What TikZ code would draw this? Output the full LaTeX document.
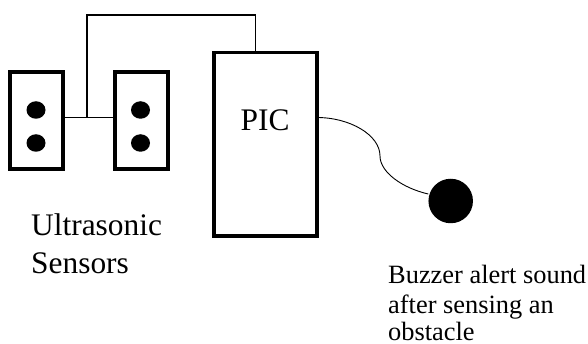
\documentclass[tikz,border=0pt]{standalone}
\usepackage{fontspec}
\usetikzlibrary{shapes.geometric}
\setmainfont{Liberation Serif}
\begin{document}
\begin{tikzpicture}[x=1pt,y=-1pt,
  boxnode/.style={draw=black,line width=3.8pt,fill=white,inner sep=0pt,outer sep=0pt},
  dotnode/.style={ellipse,fill=black,inner sep=0pt,minimum width=19pt,minimum height=17.5pt},
  wire/.style={draw=black,line width=1.3pt},
  thin wire/.style={draw=black,line width=0.9pt},
  biglabel/.style={anchor=base west,inner sep=0pt,font=\fontsize{31.4}{36}\selectfont},
  smalllabel/.style={anchor=base west,inner sep=0pt,font=\fontsize{26.4}{30}\selectfont}]
\useasboundingbox (0,0) rectangle (588,344);
\node[boxnode,minimum width=52.9pt,minimum height=96.9pt] (s1) at (36.7,120.3) {};
\node[boxnode,minimum width=52.9pt,minimum height=96.9pt] (s2) at (141.5,120.3) {};
\node[boxnode,minimum width=102.9pt,minimum height=183.2pt] (pic) at (265.3,144.2) {};
\node[dotnode] (d1) at (36,110) {};
\node[dotnode] (d2) at (36,143) {};
\node[dotnode] (d3) at (140.5,110) {};
\node[dotnode] (d4) at (140.5,143) {};
\node[circle,fill=black,inner sep=0pt,minimum size=44.5pt] (buzzer) at (450.7,201) {};
\coordinate (j) at (87,117.5);
\coordinate (picout) at (pic.east |- 0,117.5);
\draw[wire] (s1.east |- j) -- (j) -- (s2.west |- j);
\draw[wire] (j) -- (87,15) -- (255.5,15) -- (255.5,0 |- pic.north);
\draw[thin wire] (picout) .. controls (350,117.5) and (380,135) .. (380,156)
  .. controls (380,172) and (402,188) .. (buzzer.west |- 0,194);
\node[biglabel] (pl) at (240.5,131) {PIC};
\node[biglabel] (u1) at (31,236) {Ultrasonic};
\node[biglabel] (u2) at (31,273) {Sensors};
\node[smalllabel] (b1) at (388,283.3) {Buzzer alert sound};
\node[smalllabel] (b2) at (388,313.5) {after sensing an};
\node[smalllabel] (b3) at (388,340) {obstacle};
\end{tikzpicture}
\end{document}
